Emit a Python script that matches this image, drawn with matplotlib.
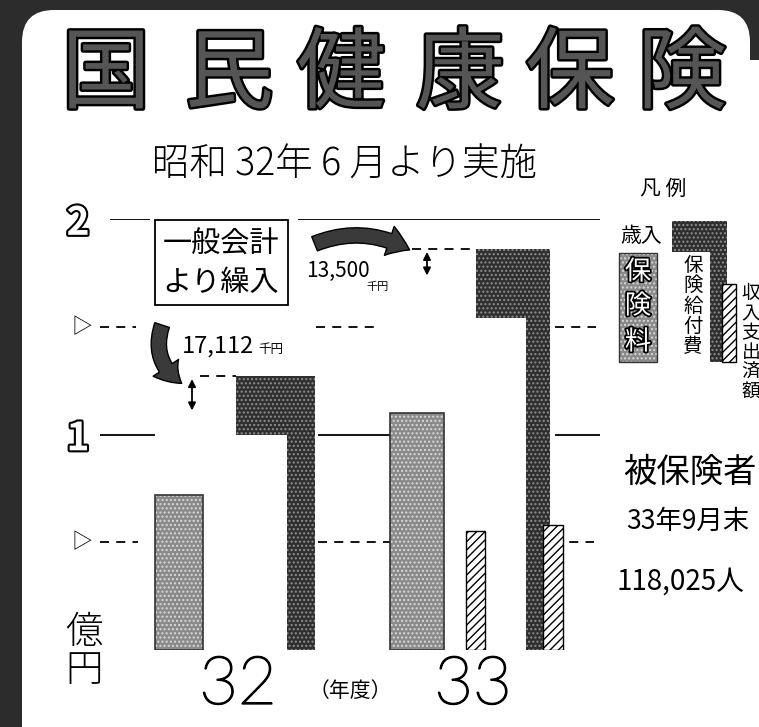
import matplotlib
matplotlib.use("Agg")
import matplotlib.pyplot as plt
import matplotlib.transforms as mtransforms
import matplotlib.patheffects as pe
from matplotlib.patches import FancyBboxPatch, Rectangle, FancyArrowPatch, Polygon

plt.rcParams["font.family"] = ["Noto Sans CJK JP", "DejaVu Sans"]
plt.rcParams["hatch.linewidth"] = 1.0

# ---- data (億円) -------------------------------------------------------
years = ["32", "33"]
premium = [0.72, 1.10]            # 保険料
revenue = [1.27, 1.86]            # 歳入 (top of the L-shaped bar)
revenue_step = [1.00, 1.54]       # where the wide head of the L starts
settled_in = [None, 0.55]         # 収入済額 (33 only)
settled_out = [None, 0.58]        # 支出済額 (33 only)
transfer_k = [17112, 13500]       # 一般会計より繰入, 千円
transfer_lbl = ["17,112", "13,500"]
yticks = [2.0, 1.5, 1.0, 0.5]
ytick_lbl = ["2", "▷", "1", "▷"]
insured = "118,025人"

# ---- layout (pixel units of the 759x727 canvas) ------------------------
W, H = 759, 727
Y0_PX, Y2_PX = 650, 219           # pixel rows of 0 and 2 億円
PREM_X, PREM_W = [179, 417], [48, 54]
HEAD_X, HEAD_W = [275.5, 513], [79, 74]
STEM_X, STEM_W = [301, 538], [28, 24]
SIN_X, SIN_W = 475.5, 19
SOUT_X, SOUT_W = 553, 20
YEAR_X = [238, 473]
GRID = {
    2.0: ("-", [(110, 150), (298, 600)]),
    1.5: ("--", [(100, 136), (316, 376), (555, 596)]),
    1.0: ("-", [(100, 155), (318, 390), (555, 600)]),
    0.5: ("--", [(100, 138), (318, 390), (553, 594)]),
}

DARK, DARK_DOT = "#2f2f2f", "#8f8f8f"
LIGHT, LIGHT_DOT = "#8a8a8a", "#d9d9d9"
DASH = (0, (5, 4))

fig = plt.figure(figsize=(W / 100, H / 100), dpi=100)
fig.patch.set_facecolor("#2c2c2c")
T = mtransforms.Affine2D().scale(1, -1).translate(0, H)   # pixel coords, y down

# white rounded panel inside the stippled frame
fig.add_artist(FancyBboxPatch((22, 10), 728, 780, boxstyle="round,pad=0,rounding_size=32",
                              transform=T, fc="white", ec="none", zorder=-10))
fig.add_artist(Rectangle((700, 60), 80, 700, transform=T, fc="white", ec="none", zorder=-9))

ax = fig.add_axes([0, (H - Y0_PX) / H, 1, (Y0_PX - Y2_PX) / H])
ax.set_xlim(0, W)
ax.set_ylim(0, 2)
ax.axis("off")
ax.patch.set_alpha(0)

# broken grid lines
for y, (ls, segs) in GRID.items():
    for a, b in segs:
        ax.hlines(y, a, b, color="black", lw=1.3, linestyle="-" if ls == "-" else DASH)

# y labels
for y, lbl in zip(yticks, ytick_lbl):
    if lbl == "▷":
        ax.text(82, y, lbl, ha="center", va="center", fontsize=15, clip_on=False)
    else:
        ax.text(78, y - 0.02, lbl, ha="center", va="center", fontsize=28, fontweight="bold",
                color="white", clip_on=False,
                path_effects=[pe.Stroke(linewidth=3, foreground="black"), pe.Normal()])


def stipple(x, h, w, bottom, fc, dot):
    ax.bar(x, h, w, bottom=bottom, color=fc, edgecolor=fc, lw=0, zorder=3)
    ax.bar(x, h, w, bottom=bottom, fill=False, hatch="....", edgecolor=dot, lw=0, zorder=3)


for i in range(2):
    # 保険料
    stipple(PREM_X[i], premium[i], PREM_W[i], 0, LIGHT, LIGHT_DOT)
    ax.bar(PREM_X[i], premium[i], PREM_W[i], fill=False, edgecolor="#333", lw=1.2, zorder=4)
    # 歳入 / 保険給付費 L-bar
    stipple(STEM_X[i], revenue[i], STEM_W[i], 0, DARK, DARK_DOT)
    stipple(HEAD_X[i], revenue[i] - revenue_step[i], HEAD_W[i], revenue_step[i], DARK, DARK_DOT)
    # transfer from general account
    lo = revenue[i] - transfer_k[i] / 1e5
    xd = [192, 427][i]
    ax.annotate("", xy=(xd, lo), xytext=(xd, revenue[i]),
                arrowprops=dict(arrowstyle="<|-|>", color="black", lw=1.3, mutation_scale=11))
    ax.hlines(revenue[i], [200, 412][i], HEAD_X[i] - HEAD_W[i] / 2, color="black", lw=1.3,
              linestyle=DASH)

# 収入支出済額 (hatched)
ax.bar(SIN_X, settled_in[1], SIN_W, color="white", edgecolor="black", hatch="////", lw=1, zorder=5)
ax.bar(SOUT_X, settled_out[1], SOUT_W, color="white", edgecolor="black", hatch="////", lw=1, zorder=5)

# curved arrows
arr = "simple,head_width=2.2,head_length=1.6,tail_width=1.1"
ax.add_patch(FancyArrowPatch((312, revenue[1] + 0.02), (412, revenue[1] - 0.01),
                             connectionstyle="arc3,rad=-0.25", arrowstyle=arr, mutation_scale=10,
                             fc="#3a3a3a", ec="black", lw=1, zorder=6, clip_on=False))
ax.add_patch(FancyArrowPatch((163, 1.52), (184, revenue[0] - 0.04),
                             connectionstyle="arc3,rad=0.4", arrowstyle=arr, mutation_scale=10,
                             fc="#3a3a3a", ec="black", lw=1, zorder=6, clip_on=False))

# ---- texts in pixel coordinates ----------------------------------------
def t(x, y, s, **kw):
    kw.setdefault("ha", "center")
    kw.setdefault("va", "center")
    fig.text(x, y, s, transform=T, **kw)


for ch, cx in zip("国民健康保険", [106, 229, 341, 460, 570, 682]):
    t(cx, 76, ch, fontsize=64, fontweight="normal", color="#555555",
      path_effects=[pe.Stroke(linewidth=3.5, foreground="black"), pe.Normal()])

t(345, 165, "昭和 32年 6 月より実施", fontsize=27, fontweight="light")
t(663, 189, "凡 例", fontsize=15)

# box 一般会計より繰入
fig.add_artist(Rectangle((155, 220), 133, 85, transform=T, fc="white", ec="black", lw=1.3, zorder=2))
t(221, 245, "一般会計", fontsize=21, zorder=3)
t(221, 283, "より繰入", fontsize=21, zorder=3)

t(338, 271, transfer_lbl[1], fontsize=15)
t(378, 287, "千円", fontsize=8)
t(218, 346, transfer_lbl[0], fontsize=17)
t(271, 350, "千円", fontsize=9)

# legend graphic
l_shape = [(672, 221), (727, 221), (727, 362), (710, 362), (710, 252), (672, 252)]
fig.add_artist(Polygon(l_shape, closed=True, transform=T, fc=DARK, ec=DARK, lw=0, zorder=2))
fig.add_artist(Polygon(l_shape, closed=True, transform=T, fill=False, ec=DARK_DOT, hatch="....",
                       lw=0, zorder=2))
fig.add_artist(Rectangle((722, 284), 14, 78, transform=T, fc="white", ec="black", hatch="////",
                         lw=1, zorder=3))
fig.add_artist(Rectangle((619, 253), 38, 109, transform=T, fc=LIGHT, ec="none", zorder=2))
fig.add_artist(Rectangle((619, 253), 38, 109, transform=T, fill=False, ec=LIGHT_DOT, hatch="....",
                         lw=0, zorder=2))
fig.add_artist(Rectangle((619, 253), 38, 109, transform=T, fill=False, ec="#333", lw=1, zorder=2))
for ch, cy in zip("保険料", [272, 306, 342]):
    t(638, cy, ch, fontsize=19, color="white", zorder=4,
      path_effects=[pe.Stroke(linewidth=2.5, foreground="black"), pe.Normal()])
t(641, 236, "歳入", fontsize=15)
t(693, 306, "保\n険\n給\n付\n費", fontsize=14, linespacing=0.95)
t(751, 343, "収\n入\n支\n出\n済\n額", fontsize=13.5, linespacing=0.92)

t(690, 472, "被保険者", fontsize=24)
t(688, 521, "33年9月末", fontsize=19)
t(680, 582, insured, fontsize=20)

t(84, 651, "億\n円", fontsize=27, linespacing=0.95, fontweight="light")
for x, yr in zip(YEAR_X, years):
    t(x, 686, yr, fontsize=48, family="Lato", fontweight="light",
      path_effects=[pe.withStroke(linewidth=1.3, foreground="black")])
t(350, 691, "（年度）", fontsize=15)

fig.savefig("out.png", dpi=100, facecolor=fig.get_facecolor())
